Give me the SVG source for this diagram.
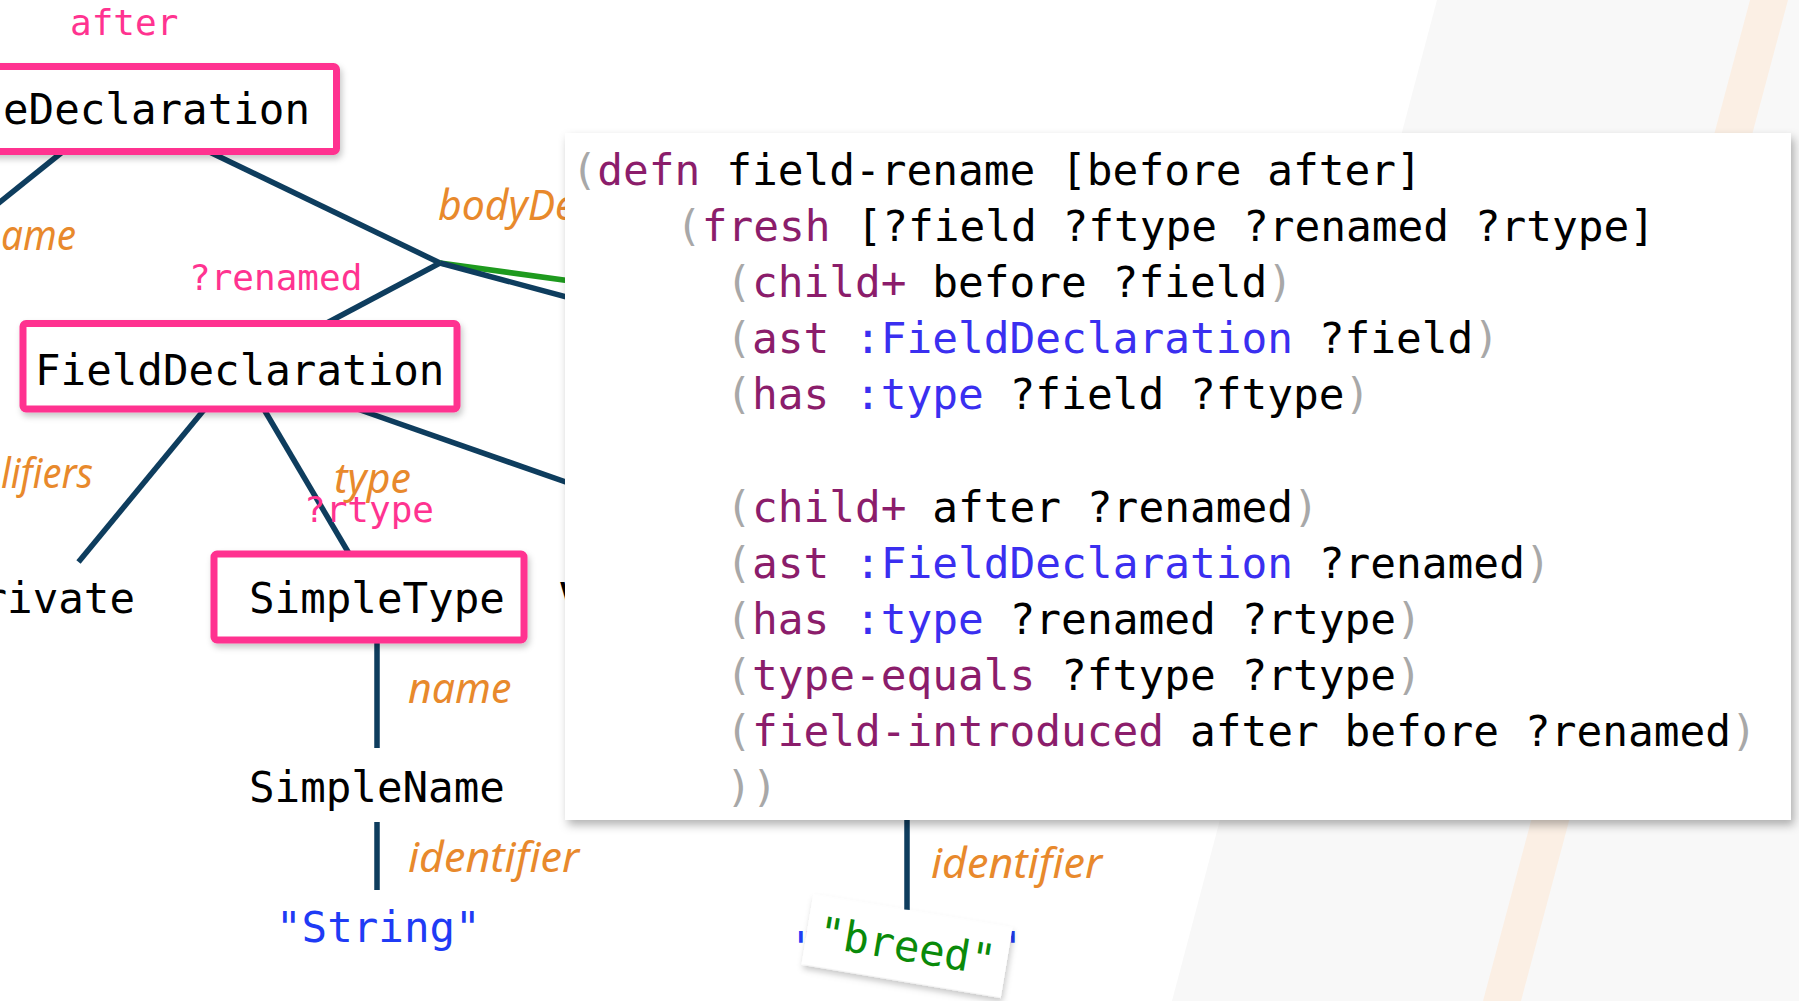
<svg xmlns="http://www.w3.org/2000/svg" width="1799" height="1001" viewBox="0 0 1799 1001">
<defs>
<style>
.node{font-family:"DejaVu Sans Mono","Liberation Mono",monospace;font-size:42.5px;fill:#000}
.box{fill:#fff;stroke:#FF3390;stroke-width:7}
.var{font-family:"DejaVu Sans Mono","Liberation Mono",monospace;font-size:36px;fill:#FF3390}
.lbl{font-family:"Noto Sans","DejaVu Sans",sans-serif;font-style:italic;font-size:41px;fill:#E8892C}
.edge{stroke:#0E3D5E;stroke-width:5.5;fill:none}
.hl{stroke:#1E9A1E;stroke-width:5.5;fill:none}
.code{font-family:"DejaVu Sans Mono","Liberation Mono",monospace;font-size:42.8px;fill:#000}
.p{fill:#A8A8A8}
.k{fill:#8B1D6B}
.c{fill:#3A2FF0}
</style>
<filter id="sh" x="-10%" y="-20%" width="130%" height="150%">
<feDropShadow dx="2" dy="4" stdDeviation="3" flood-color="#000" flood-opacity="0.22"/>
</filter>
<filter id="sh2" x="-5%" y="-5%" width="110%" height="115%">
<feDropShadow dx="3" dy="5" stdDeviation="5" flood-color="#000" flood-opacity="0.3"/>
</filter>
</defs>

<g id="background">
<rect x="0" y="0" width="1799" height="1001" fill="#ffffff"/>
<polygon points="1437,0 1799,0 1799,1001 1172,1001" fill="#f8f8f8"/>
<polygon points="1750,0 1788,0 1521,1001 1483,1001" fill="#fbefe4"/>
</g>

<g id="connectors">
<line class="edge" x1="71" y1="145" x2="-5" y2="206"/>
<line class="edge" x1="195" y1="145" x2="440" y2="263"/>
<line class="hl" x1="440" y1="263" x2="600" y2="285"/>
<line class="edge" x1="440" y1="263" x2="600" y2="306"/>
<line class="edge" x1="440" y1="263" x2="308" y2="333"/>
<line class="edge" x1="208" y1="405" x2="78.5" y2="562"/>
<line class="edge" x1="262" y1="406" x2="354" y2="562"/>
<line class="edge" x1="346" y1="405" x2="600" y2="494"/>
<line class="edge" x1="377" y1="642" x2="377" y2="748"/>
<line class="edge" x1="377" y1="822" x2="377" y2="890"/>
<line class="edge" x1="907" y1="815" x2="907" y2="910"/>
</g>

<g id="edge-labels">
<text class="var" x="70" y="35">after</text>
<text class="lbl" x="438" y="220">bodyDe</text>
<text class="lbl" x="1" y="250" textLength="75" lengthAdjust="spacingAndGlyphs">ame</text>
<text class="var" x="189" y="290">?renamed</text>
<text class="lbl" x="1" y="488" textLength="92" lengthAdjust="spacingAndGlyphs">lifiers</text>
<text class="lbl" x="334" y="493">type</text>
<text class="var" x="304" y="522">?rtype</text>
<text class="lbl" x="408" y="703">name</text>
<text class="lbl" x="408" y="872" textLength="171" lengthAdjust="spacingAndGlyphs">identifier</text>
<text class="lbl" x="931" y="878" textLength="171" lengthAdjust="spacingAndGlyphs">identifier</text>
</g>

<g id="node-typedeclaration">
<rect class="box" x="-10" y="66.5" width="346.5" height="85" rx="3" filter="url(#sh)"/>
<text class="node" x="3" y="124">eDeclaration</text>
</g>

<g id="node-fielddeclaration">
<rect class="box" x="23" y="323.5" width="434" height="85.5" rx="3" filter="url(#sh)"/>
<text class="node" x="35" y="385">FieldDeclaration</text>
</g>

<g id="node-private">
<text class="node" x="135" y="613" text-anchor="end">rivate</text>
</g>

<g id="node-simpletype">
<rect class="box" x="214" y="554" width="310" height="86" rx="3" filter="url(#sh)"/>
<text class="node" x="249" y="613">SimpleType</text>
</g>

<g id="node-v">
<text class="node" x="559" y="613">V</text>
</g>

<g id="node-simplename">
<text class="node" x="249" y="802">SimpleName</text>
</g>

<g id="node-string">
<text class="node" x="276" y="942" style="fill:#1F3BF5">"String"</text>
</g>

<g id="node-old-name">
<text class="node" x="792" y="962" style="fill:#1F3BF5">"</text>
<text class="node" x="996" y="962" style="fill:#1F3BF5">"</text>
</g>

<g id="node-breed" transform="translate(907,946) rotate(9.5)">
<rect x="-101" y="-35.5" width="202" height="71" fill="#ffffff" filter="url(#sh)"/>
<text class="node" x="0" y="15" text-anchor="middle" style="fill:#0A8A0A">"breed"</text>
</g>

<g id="code-box">
<rect x="565" y="133" width="1226" height="687" fill="#ffffff" filter="url(#sh2)"/>
<text class="code" x="571.5" y="185"><tspan class="p">(</tspan><tspan class="k">defn</tspan><tspan> field-rename [before after]</tspan></text>
<text class="code" x="676" y="241.1"><tspan class="p">(</tspan><tspan class="k">fresh</tspan><tspan> [?field ?ftype ?renamed ?rtype]</tspan></text>
<text class="code" x="726.1" y="297.2"><tspan class="p">(</tspan><tspan class="k">child+</tspan><tspan> before ?field</tspan><tspan class="p">)</tspan></text>
<text class="code" x="726.1" y="353.3"><tspan class="p">(</tspan><tspan class="k">ast</tspan><tspan> </tspan><tspan class="c">:FieldDeclaration</tspan><tspan> ?field</tspan><tspan class="p">)</tspan></text>
<text class="code" x="726.1" y="409.4"><tspan class="p">(</tspan><tspan class="k">has</tspan><tspan> </tspan><tspan class="c">:type</tspan><tspan> ?field ?ftype</tspan><tspan class="p">)</tspan></text>
<text class="code" x="726.1" y="521.6"><tspan class="p">(</tspan><tspan class="k">child+</tspan><tspan> after ?renamed</tspan><tspan class="p">)</tspan></text>
<text class="code" x="726.1" y="577.7"><tspan class="p">(</tspan><tspan class="k">ast</tspan><tspan> </tspan><tspan class="c">:FieldDeclaration</tspan><tspan> ?renamed</tspan><tspan class="p">)</tspan></text>
<text class="code" x="726.1" y="633.8"><tspan class="p">(</tspan><tspan class="k">has</tspan><tspan> </tspan><tspan class="c">:type</tspan><tspan> ?renamed ?rtype</tspan><tspan class="p">)</tspan></text>
<text class="code" x="726.1" y="689.9"><tspan class="p">(</tspan><tspan class="k">type-equals</tspan><tspan> ?ftype ?rtype</tspan><tspan class="p">)</tspan></text>
<text class="code" x="726.1" y="746"><tspan class="p">(</tspan><tspan class="k">field-introduced</tspan><tspan> after before ?renamed</tspan><tspan class="p">)</tspan></text>
<text class="code" x="726.1" y="802.1"><tspan class="p">))</tspan></text>
</g>
</svg>
